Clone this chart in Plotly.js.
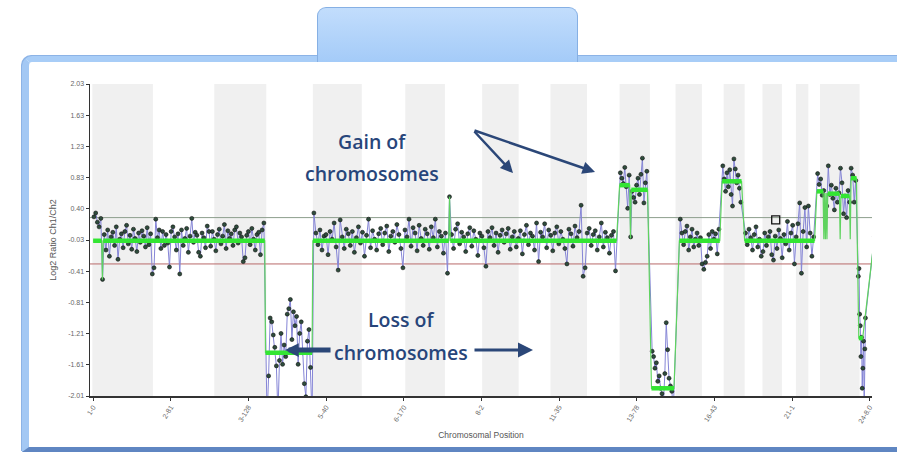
<!DOCTYPE html>
<html><head><meta charset="utf-8">
<script src="https://cdn.plot.ly/plotly-3.0.1.min.js"></script>
<style>
html,body{margin:0;padding:0;background:#fff;width:897px;height:452px;overflow:hidden;}
#frame{position:absolute;left:22px;top:56px;width:900px;height:385px;border-top:6px solid #a8cdf7;border-left:7px solid #a3c8f4;border-bottom:5px solid #5f86c2;border-radius:10px 0 0 0;background:#fff;box-shadow:-1px -1px 0 #8cb3e6;}
#tab{position:absolute;left:317px;top:7px;width:259px;height:54px;border:1px solid #86b0e4;border-bottom:none;border-radius:9px 9px 0 0;background:linear-gradient(#c2ddfc,#a4cbf8);}
#chart{position:absolute;left:0;top:0;width:897px;height:452px;}
</style></head><body>
<div id="frame"></div><div id="tab"></div>
<div id="chart"></div>
<script>
// ---- axis ticks ----
const xTickVals = [0,100,200,300,400,500,600,700,800,900,1000];
const xTickText = ['1-0','2-81','3-128','5-40','6-170','8-2','11-35','13-78','16-43','21-1','24-8.0'];
const yTickVals = [2.03,1.626,1.222,0.818,0.414,0.01,-0.394,-0.798,-1.202,-1.606,-2.01];
const yTickText = ['2.03','1.63','1.23','0.83','0.40','-0.03','-0.41','-0.81','-1.21','-1.61','-2.01'];

// ---- alternating chromosome bands (grey) ----
const bandStart = [-1,156,283,402,501,589,678,750,812,862,905,936];
const bandEnd   = [77,223,346,453,548,636,717,784,839,887,921,987];

// ---- probe blocks: genomic span and log2 ratios ----
const blockStart = [0,223,283,678,719,755,810,839,932,985,1005];
const blockEnd   = [221,283,674,714,748,807,835,929,983,995,1007];
const ratiosA = [0.31,0.36,0.24,0.18,0.29,-0.5,0.08,-0.12,0.14,-0.2,
 0.05,0.11,-0.06,0.18,-0.24,0.02,0.09,-0.09,0.12,0.2,
 -0.04,0.07,-0.11,0.15,0.03,-0.14,0.1,-0.02,0.13,0.06,
 -0.08,0.17,-0.05,0.09,-0.43,-0.35,0.28,0.04,0.14,-0.1,
 0.12,-0.06,0.08,-0.03,-0.34,0.12,0.18,0.05,-0.12,0.09,
 -0.43,0.14,-0.06,0.03,0.16,-0.15,0.06,0.29,-0.02,0.11,
 0.07,-0.15,-0.2,0.1,0.04,-0.09,0.19,0.12,-0.07,0.12,
 0.02,-0.13,0.08,0.15,-0.04,0.06,0.21,-0.1,0.13,0.03,
 0.09,-0.06,0.14,0.18,-0.03,0.1,0.05,-0.27,-0.22,0.07,
 0.12,-0.05,0.16,0.02,-0.12,0.08,0.11,-0.18,0.14,0.23];
const ratiosB = [-2.3,-1.75,-1.0,-1.05,-1.22,-1.38,-1.62,-2.25,-1.55,-1.2,
 -1.6,-1.35,-1.5,-0.95,-0.88,-0.76,-1.28,-0.92,-1.1,-0.98,
 -1.6,-1.2,-1.05,-1.45,-1.85,-2.02,-1.3,-1.15,-1.64,-2.3];
const ratiosC = [0.36,0.1,-0.05,0.14,-0.12,0.06,0.08,-0.18,0.12,0.02,
 0.23,-0.08,-0.38,0.27,0.05,-0.1,0.15,0.09,-0.06,0.12,
 -0.15,0.04,0.18,-0.03,0.11,-0.2,0.07,0.28,-0.09,0.13,
 0.02,-0.12,0.09,0.16,-0.05,0.1,0.19,-0.14,0.06,0.12,
 -0.02,0.21,0.08,-0.1,-0.35,0.14,0.05,0.28,-0.07,0.17,
 0.1,-0.13,0.2,0.03,-0.06,0.15,0.09,-0.11,0.18,0.04,
 0.28,-0.08,0.12,0.06,-0.16,0.1,-0.42,0.57,0.08,-0.1,
 0.15,0.22,-0.04,0.11,0.05,-0.14,0.09,0.17,-0.07,0.13,
 0.02,-0.19,0.1,0.06,-0.09,-0.33,0.12,0.04,0.17,-0.06,
 0.1,-0.15,0.07,0.14,-0.02,0.09,0.16,-0.11,0.05,0.12,
 -0.08,0.03,0.13,-0.17,0.08,0.2,-0.05,0.1,0.06,-0.12,
 0.23,-0.27,0.11,0.05,0.22,-0.09,0.14,0.07,-0.13,0.1,
 0.18,-0.04,0.12,0.02,-0.1,-0.3,0.15,0.09,-0.07,0.19,
 0.04,0.12,0.46,-0.46,-0.35,0.1,0.16,-0.06,0.08,0.13,
 -0.12,0.05,0.23,-0.08,0.11,0.04,-0.16,0.07,0.12,-0.39];
const ratiosD = [0.88,0.81,0.74,0.95,0.7,0.42,0.85,0.05,0.64,0.56,0.5,0.72,0.81,0.6,0.86,1.07,0.49,0.75,0.9];
const ratiosE = [-1.43,-1.5,-1.65,-1.58,-1.82,-1.75,-1.91,-1.98,-2.1,-1.72,-1.06,-1.41,-1.78,-1.88,-1.95,-2.2];
const ratiosF = [0.28,0.1,-0.05,0.12,0.19,-0.12,0.05,0.15,-0.08,0.02,0.1,-0.06,0.04,-0.3,-0.37,-0.28,-0.2,0.08,-0.1,0.12,0.02,0.09,-0.17,0.15];
const ratiosG = [0.97,0.8,0.64,0.88,0.7,0.92,0.6,0.45,1.06,0.93,0.75,0.85,0.68,0.5];
const ratiosH = [0.1,-0.05,0.15,0.04,-0.12,0.08,0.18,-0.08,0.02,-0.2,
 -0.14,0.1,-0.06,0.05,0.12,-0.18,-0.25,0.06,-0.1,0.14,
 0.03,-0.22,0.08,-0.04,0.25,-0.12,0.1,0.2,-0.3,0.05,
 0.22,0.49,-0.42,0.12,0.43,-0.08,0.45,0.1,-0.2,0.05];
const ratiosI = [0.87,0.73,0.8,0.59,0.65,0.3,0.45,0.97,0.6,0.72,0.55,0.4,0.68,0.5,0.62,0.94,0.75,0.35,0.58,0.3,0.65,0.5,0.94,0.85,0.5,0.78];
const ratiosJ = [-0.46,-0.36,-0.95,-1.1,-1.5,-1.25,-1.91,-1.65,-1.3,-2.2,-1.4,-1.0];
const ratiosK = [0.05];
const blockRatios = [ratiosA,ratiosB,ratiosC,ratiosD,ratiosE,ratiosF,ratiosG,ratiosH,ratiosI,ratiosJ,ratiosK];

// ---- segmentation result (aberration calls) ----
const segStart = [0,12,13,222,283,459,460,678,692,693,719,755,810,839,932,941,942,943,944,945,946,962,963,975,976,984,986,1005];
const segEnd   = [11,12,221,282,458,459,674,691,692,714,748,807,835,929,940,941,942,943,944,945,961,962,974,975,983,984,991,1005];
const segValue = [0,-0.5,0,-1.45,0,0.57,0,0.72,0.03,0.66,-1.91,0,0.77,0,0.64,0.02,0.62,0.02,0.62,0.02,0.61,0.02,0.58,0.02,0.81,0.02,-1.26,-0.05];

const thresholds = [0.3,-0.3];
const cursorX = [879], cursorY = [0.27];

// ---- build traces ----
const px = [], py = [];
blockRatios.forEach((vals,b)=>{
  const s = blockStart[b], e = blockEnd[b], n = vals.length;
  vals.forEach((v,i)=>{ px.push(s + (i+0.5)*(e-s)/n); py.push(v); });
});
const gx = [], gy = [];
segStart.forEach((s,k)=>{ gx.push(s, segEnd[k]); gy.push(segValue[k], segValue[k]); });
const tx = [], ty = [];
segStart.forEach((s,k)=>{ if (segEnd[k] > s) { tx.push(s, segEnd[k], null); ty.push(segValue[k], segValue[k], null); } });

const traces = [
  {x:px, y:py, type:'scatter', mode:'lines+markers', hoverinfo:'skip',
   line:{color:'#8585d6', width:1},
   marker:{size:4, color:'#2e4d3c', line:{color:'#111', width:0.6}}},
  {x:gx, y:gy, type:'scatter', mode:'lines', line:{color:'#5fd35f', width:1.2}, hoverinfo:'skip'},
  {x:tx, y:ty, type:'scatter', mode:'lines', line:{color:'#33e533', width:4.5}, hoverinfo:'skip'},
  {x:cursorX, y:cursorY, type:'scatter', mode:'markers', marker:{symbol:'square-open', size:8, color:'#111', line:{width:1.3}}, hoverinfo:'skip'}
];

const shapes = [];
bandStart.forEach((s,k)=>shapes.push({type:'rect', xref:'x', yref:'paper', x0:s, x1:bandEnd[k], y0:0, y1:1, fillcolor:'#f0f0f0', line:{width:0}, layer:'below'}));
shapes.push({type:'line', xref:'paper', yref:'y', x0:0, x1:1, y0:thresholds[0], y1:thresholds[0], line:{color:'#8d9e8d', width:1}, layer:'below'});
shapes.push({type:'line', xref:'paper', yref:'y', x0:0, x1:1, y0:thresholds[1], y1:thresholds[1], line:{color:'#b86a6a', width:1}, layer:'below'});

const noteFont = {family:'Open Sans, sans-serif', size:19.5, color:'#27457a', weight:600};
const arrowColor = '#2b4778';
const annotations = [
  {xref:'paper', yref:'paper', x:0.3606, y:0.8654, text:'Gain of', showarrow:false, font:noteFont},
  {xref:'paper', yref:'paper', x:0.3606, y:0.7628, text:'chromosomes', showarrow:false, font:noteFont},
  {xref:'paper', yref:'paper', x:0.3977, y:0.1955, text:'Loss of', showarrow:false, font:noteFont},
  {xref:'paper', yref:'paper', x:0.3977, y:0.0897, text:'chromosomes', showarrow:false, font:noteFont},
  {xref:'paper', yref:'paper', x:0.5409, y:0.7147, ax:-40, ay:-43, text:'', showarrow:true, arrowhead:2, arrowsize:1, arrowwidth:2.5, arrowcolor:arrowColor},
  {xref:'paper', yref:'paper', x:0.6458, y:0.7179, ax:-122, ay:-42, text:'', showarrow:true, arrowhead:2, arrowsize:1, arrowwidth:2.5, arrowcolor:arrowColor},
  {xref:'paper', yref:'paper', x:0.5665, y:0.1474, ax:-60, ay:0, text:'', showarrow:true, arrowhead:2, arrowsize:1, arrowwidth:3, arrowcolor:arrowColor},
  {xref:'paper', yref:'paper', x:0.2494, y:0.1474, ax:47, ay:0, text:'', showarrow:true, arrowhead:2, arrowsize:0.55, arrowwidth:5, arrowcolor:arrowColor}
];

const tickFont = {family:'Liberation Sans, Arial, sans-serif', size:7, color:'#666'};
const layout = {
  width:897, height:452,
  margin:{l:90, r:25, t:84, b:56},
  paper_bgcolor:'rgba(0,0,0,0)', plot_bgcolor:'#ffffff',
  showlegend:false,
  xaxis:{range:[-4,1003], tickvals:xTickVals, ticktext:xTickText, tickangle:-58, tickfont:tickFont,
    showgrid:false, zeroline:false, showline:true, linecolor:'#333', linewidth:1.5,
    ticks:'outside', ticklen:3, tickcolor:'#333',
    title:{text:'Chromosomal Position', font:{family:'Liberation Sans, Arial, sans-serif', size:8.5, color:'#555'}, standoff:8}},
  yaxis:{range:[-2.01,2.03], tickvals:yTickVals, ticktext:yTickText, tickfont:tickFont,
    showgrid:false, zeroline:false, showline:true, linecolor:'#333', linewidth:1.5,
    ticks:'outside', ticklen:3, tickcolor:'#333',
    title:{text:'Log2 Ratio Ch1/Ch2', font:{family:'Liberation Sans, Arial, sans-serif', size:9, color:'#555'}, standoff:10}},
  shapes:shapes, annotations:annotations
};
Plotly.newPlot('chart', traces, layout, {displayModeBar:false, staticPlot:true});
</script></body></html>
